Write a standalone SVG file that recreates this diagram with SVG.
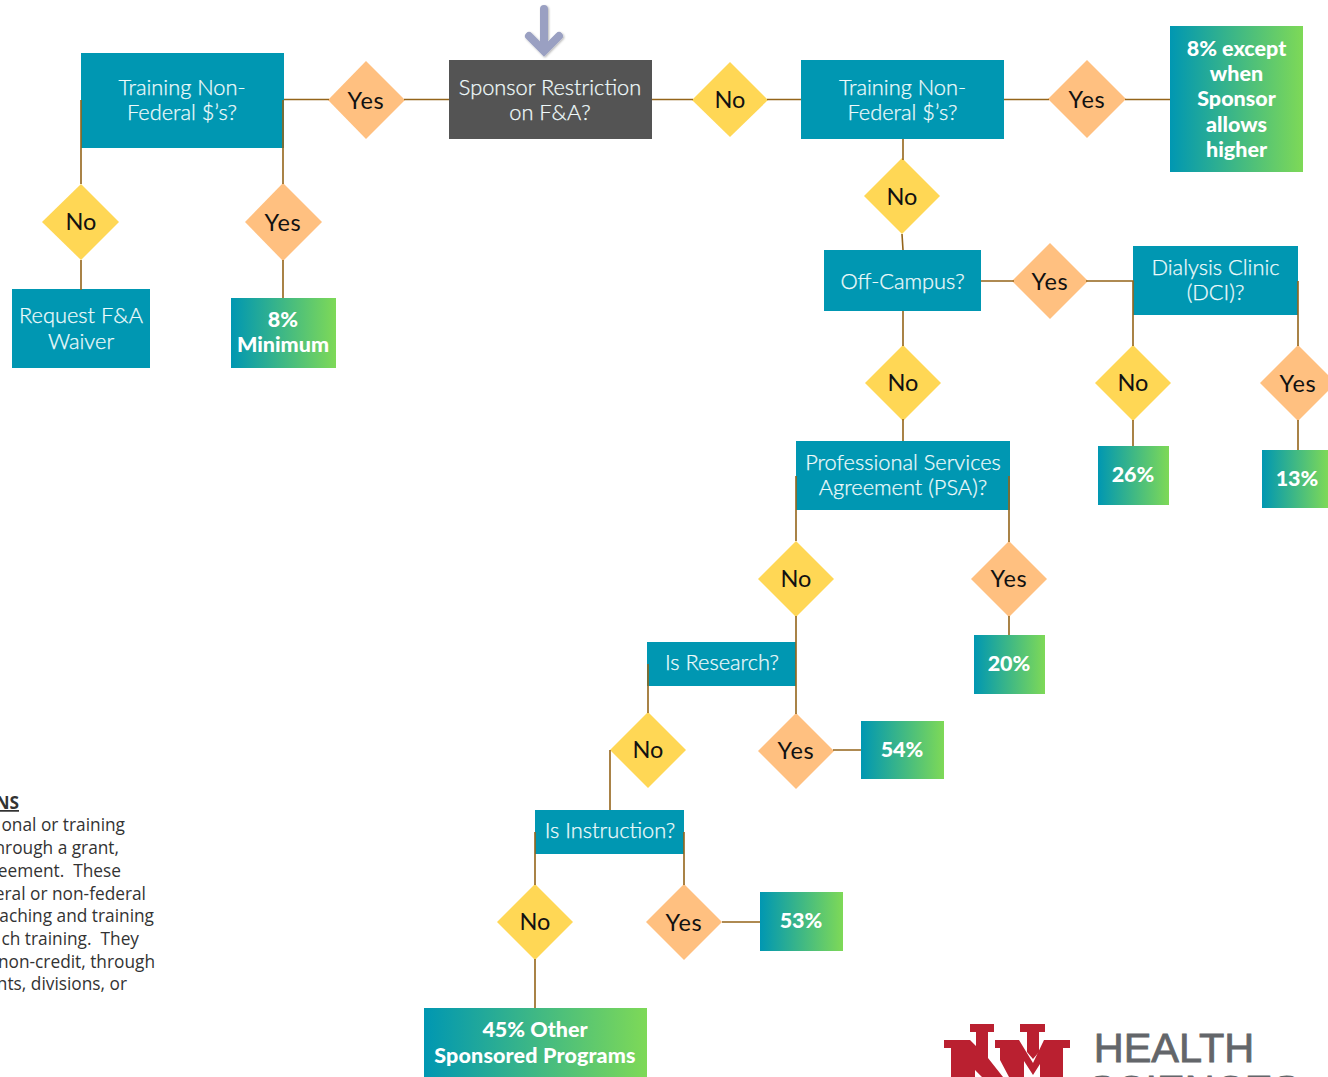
<svg xmlns="http://www.w3.org/2000/svg" width="1328" height="1077" viewBox="0 0 1328 1077">
<style>
text{font-family:"Lato","Noto Sans",sans-serif;text-anchor:middle}
.b{fill:#0097b2}
.d{fill:#545454}
.g{fill:url(#gr)}
.no{fill:#ffd755}
.yes{fill:#ffc080}
.t{fill:#f0fbfc;stroke:#f0fbfc;stroke-width:.25;font-size:21.8px;font-weight:300}
.q{fill:#111;font-size:23.5px;font-weight:400}
.y{letter-spacing:.7px}
.r{fill:#fff;font-size:21.5px;font-weight:900}
.l{fill:#333;font-size:17.3px;font-family:"Open Sans","Noto Sans",sans-serif;text-anchor:end;white-space:pre}
.h{fill:#63666a;stroke:#63666a;stroke-width:.8;font-size:41.500px;font-family:"Liberation Sans",sans-serif}
#connectors path{fill:none;stroke:#94641a;stroke-width:1.6}
</style>
<defs>
<linearGradient id="gr" x1="0" y1="0" x2="1" y2="0"><stop offset="0" stop-color="#0097b2"/><stop offset="1" stop-color="#7ed957"/></linearGradient>
<filter id="sh" x="-30%" y="-30%" width="160%" height="160%"><feDropShadow dx="1" dy="1" stdDeviation="1.2" flood-color="#000" flood-opacity=".3"/></filter>
</defs>
<rect width="1328" height="1077" fill="#fff"/>
<g id="start-arrow"><path d="M544 9V47M529 36L544 51L559 36" fill="none" stroke="#9aa0c2" stroke-width="8" stroke-linecap="round" stroke-linejoin="miter" filter="url(#sh)"/></g>
<g id="n1"><rect class="b" x="81" y="53" width="203" height="95"/><text class="t" x="182" y="95">Training Non-</text><text class="t" x="182" y="120">Federal $’s?</text></g>
<g id="d1"><polygon class="yes" points="366,61 405,100 366,139 328,100"/><text class="q y" x="366" y="109">Yes</text></g>
<g id="n2"><rect class="d" x="449" y="60" width="203" height="79"/><text class="t" x="550" y="94.500">Sponsor Restriction</text><text class="t" x="550" y="120">on F&amp;A?</text></g>
<g id="d2"><polygon class="no" points="730,62 768,100 730,137 692,100"/><text class="q" x="730" y="108">No</text></g>
<g id="n3"><rect class="b" x="801" y="60" width="203" height="79"/><text class="t" x="902.500" y="95">Training Non-</text><text class="t" x="902.500" y="120">Federal $’s?</text></g>
<g id="d3"><polygon class="yes" points="1087,60 1126,99 1087,138 1048,99"/><text class="q y" x="1087" y="108">Yes</text></g>
<g id="r1"><rect class="g" x="1170" y="26" width="133" height="146"/><text class="r" x="1236.500" y="56">8% except</text><text class="r" x="1236.500" y="81">when</text><text class="r" x="1236.500" y="106">Sponsor</text><text class="r" x="1236.500" y="132">allows</text><text class="r" x="1236.500" y="157">higher</text></g>
<g id="d4"><polygon class="no" points="81,184 119,222 81,260 42,222"/><text class="q" x="81" y="230">No</text></g>
<g id="d5"><polygon class="yes" points="283,183 322,222 283,261 245,222"/><text class="q y" x="283" y="231">Yes</text></g>
<g id="n4"><rect class="b" x="12" y="289" width="138" height="79"/><text class="t" x="81" y="323">Request F&amp;A</text><text class="t" x="81" y="349">Waiver</text></g>
<g id="r2"><rect class="g" x="231" y="298" width="105" height="70"/><text class="r" x="283" y="326.500">8%</text><text class="r" x="283" y="352">Minimum</text></g>
<g id="d6"><polygon class="no" points="902,158 940,196 902,234 864,196"/><text class="q" x="902" y="205">No</text></g>
<g id="n5"><rect class="b" x="824" y="250" width="157" height="61"/><text class="t" x="902.500" y="288.500">Off-Campus?</text></g>
<g id="d7"><polygon class="yes" points="1050,243 1088,281 1050,319 1012,281"/><text class="q y" x="1050" y="290">Yes</text></g>
<g id="n6"><rect class="b" x="1133" y="246" width="165" height="69"/><text class="t" x="1215.500" y="275">Dialysis Clinic</text><text class="t" x="1215.500" y="300">(DCI)?</text></g>
<g id="d8"><polygon class="no" points="903,345 941,383 903,421 865,383"/><text class="q" x="903" y="391">No</text></g>
<g id="d9"><polygon class="no" points="1133,345 1171,383 1133,421 1095,383"/><text class="q" x="1133" y="391">No</text></g>
<g id="d10"><polygon class="yes" points="1298,345 1336,383 1298,421 1260,383"/><text class="q y" x="1298" y="392">Yes</text></g>
<g id="r3"><rect class="g" x="1098" y="446" width="71" height="59"/><text class="r" x="1133" y="482">26%</text></g>
<g id="r4"><rect class="g" x="1262" y="450" width="66" height="58"/><text class="r" x="1297" y="486">13%</text></g>
<g id="n7"><rect class="b" x="796" y="441" width="214" height="69"/><text class="t" x="903" y="470">Professional Services</text><text class="t" x="903" y="495">Agreement (PSA)?</text></g>
<g id="d11"><polygon class="no" points="796,541 834,579 796,617 758,579"/><text class="q" x="796" y="587">No</text></g>
<g id="d12"><polygon class="yes" points="1009,541 1047,579 1009,617 971,579"/><text class="q y" x="1009" y="587">Yes</text></g>
<g id="r5"><rect class="g" x="974" y="635" width="71" height="59"/><text class="r" x="1009" y="671">20%</text></g>
<g id="n8"><rect class="b" x="647" y="642" width="149" height="44"/><text class="t" x="722" y="670">Is Research?</text></g>
<g id="d13"><polygon class="no" points="648,712 686,750 648,788 610,750"/><text class="q" x="648" y="758">No</text></g>
<g id="d14"><polygon class="yes" points="796,713 834,751 796,789 758,751"/><text class="q y" x="796" y="759">Yes</text></g>
<g id="r6"><rect class="g" x="861" y="721" width="83" height="58"/><text class="r" x="902" y="757">54%</text></g>
<g id="n9"><rect class="b" x="535" y="810" width="149" height="44"/><text class="t" x="610" y="838">Is Instruction?</text></g>
<g id="d15"><polygon class="no" points="535,884 573,922 535,960 497,922"/><text class="q" x="535" y="930">No</text></g>
<g id="d16"><polygon class="yes" points="684,884 722,922 684,960 646,922"/><text class="q y" x="684" y="931">Yes</text></g>
<g id="r7"><rect class="g" x="760" y="892" width="83" height="59"/><text class="r" x="801" y="928">53%</text></g>
<g id="r8"><rect class="g" x="424" y="1008" width="223" height="69"/><text class="r" x="535" y="1037">45% Other</text><text class="r" x="535" y="1063" style="letter-spacing:.15px">Sponsored Programs</text></g>
<g id="connectors">
<path d="M81 100V184M81 260V290M283 100V184M284 99.500H329M404 99.500H449M283 260V298"/>
<path d="M652 99.500H693M767 99.500H801M1004 99.500H1049M1125 99.500H1170"/>
<path d="M903 139V160M902 234L903 250M903 311V346M903 419V441M981 281H1014M1086 281H1133V346M1298 281V346M1133 420V446M1298 420V450"/>
<path d="M796 476V541M1009 476V542M796 616V686M1009 616V635M648 664V713M796 664V714M833 750H861"/>
<path d="M610 750V810M535 832V885M684 832V885M722 922H760M535 959V1008"/>
</g>
<g id="notes">
<text class="l" x="19" y="809" font-weight="700" text-decoration="underline">NS</text>
<text class="l" x="125" y="831">onal or training</text>
<text class="l" x="119" y="854">hrough a grant,</text>
<text class="l" x="121" y="877">eement.  These</text>
<text class="l" x="146" y="900">eral or non-federal</text>
<text class="l" x="154" y="922">aching and training</text>
<text class="l" x="139" y="945">ch training.  They</text>
<text class="l" x="155" y="968">non-credit, through</text>
<text class="l" x="127" y="990">nts, divisions, or</text>
</g>
<g id="logo">
<path fill="#ba2030" d="M944 1040H970L976 1046V1032H970V1024H994V1032H988V1058L1003 1077H982L975 1070V1077H951V1048H944Z"/>
<path fill="#ba2030" d="M995 1040H1019L1033 1063L1044 1040H1070V1048H1063V1077H1040V1064L1033 1075L1024 1061V1077H1009L1000 1060V1048H995Z"/>
<path fill="#ba2030" d="M1020 1024H1045V1032H1039V1052L1033 1059L1027 1052V1032H1020Z"/>
<text class="h" x="1174" y="1062">HEALTH</text>
<text class="h" x="1194" y="1104">SCIENCES</text>
</g>
</svg>
